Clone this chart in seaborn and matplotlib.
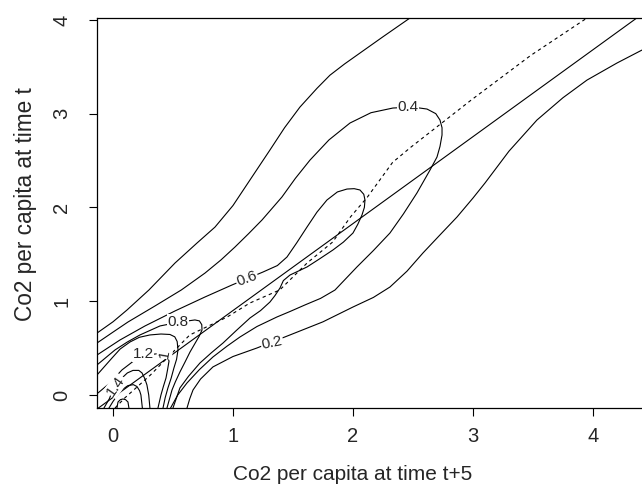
import numpy as np
import pandas as pd
import seaborn as sns
import matplotlib
matplotlib.use("Agg")
import matplotlib.pyplot as plt

# --- contour paths (x = CO2 at t+5, y = CO2 at t) ---
c02_up_x = [-0.133, 0.0, 0.117, 0.3, 0.517, 0.7, 0.85, 1.0, 1.158, 1.308, 1.43, 1.558, 1.7,
            1.808, 1.93, 2.058, 2.25, 2.475]
c02_up_y = [0.66, 0.78, 0.906, 1.12, 1.407, 1.62, 1.79, 2.02, 2.324, 2.612, 2.85, 3.07, 3.27,
            3.41, 3.53, 3.646, 3.82, 4.02]

c02_lo_x = [0.617, 0.64, 0.667, 0.73, 0.833, 1.0, 1.2, 1.475, 1.75, 2.0, 2.17, 2.308, 2.45,
            2.583, 2.72, 2.867, 3.0, 3.10, 3.3, 3.533, 3.75, 3.95, 4.2, 4.408]
c02_lo_y = [-0.139, -0.04, 0.053, 0.17, 0.299, 0.41, 0.501, 0.64, 0.78, 0.938, 1.04, 1.151, 1.32,
            1.514, 1.70, 1.898, 2.10, 2.26, 2.60, 2.932, 3.17, 3.358, 3.54, 3.678]

c04_x = [-0.133, 0.0, 0.125, 0.35, 0.57, 0.767, 0.9, 1.017, 1.13, 1.242, 1.408, 1.52, 1.642,
         1.8, 1.975, 2.15, 2.333, 2.5, 2.617, 2.69, 2.725, 2.742, 2.742, 2.725, 2.70, 2.642,
         2.533, 2.42, 2.308, 2.17, 2.033, 1.85, 1.73, 1.6, 1.475, 1.367, 1.2, 1.058, 0.95,
         0.833, 0.72, 0.617, 0.54, 0.48]
c04_y = [0.554, 0.67, 0.778, 0.949, 1.12, 1.30, 1.44, 1.578, 1.72, 1.866, 2.111, 2.31, 2.505,
         2.72, 2.90, 3.01, 3.06, 3.07, 3.049, 3.00, 2.932, 2.85, 2.772, 2.65, 2.537, 2.399,
         2.154, 1.93, 1.727, 1.54, 1.365, 1.119, 1.03, 0.96, 0.89, 0.832, 0.73, 0.618, 0.52,
         0.405, 0.27, 0.128, 0.0, -0.139]

c06_x = [-0.133, 0.058, 0.267, 0.517, 0.767, 0.992, 1.25, 1.37, 1.45, 1.53, 1.617, 1.7, 1.783,
         1.87, 1.95, 2.01, 2.058, 2.09, 2.10, 2.095, 2.075, 2.04, 2.0, 1.92, 1.833, 1.72, 1.617,
         1.475, 1.42, 1.392, 1.35, 1.308, 1.23, 1.142, 1.03, 0.917, 0.82, 0.725, 0.63, 0.558, 0.50]
c06_y = [0.426, 0.586, 0.736, 0.896, 1.045, 1.173, 1.311, 1.38, 1.471, 1.62, 1.791, 1.95, 2.079,
         2.165, 2.196, 2.2, 2.186, 2.14, 2.079, 2.0, 1.919, 1.82, 1.727, 1.63, 1.546, 1.45, 1.365,
         1.279, 1.22, 1.141, 1.06, 0.991, 0.9, 0.821, 0.69, 0.554, 0.45, 0.341, 0.2, 0.075, -0.139]

c08_x = [-0.133, 0.017, 0.12, 0.225, 0.392, 0.558, 0.683, 0.72, 0.74, 0.742, 0.72, 0.70, 0.642,
         0.60, 0.558, 0.52, 0.492, 0.45]
c08_y = [0.32, 0.48, 0.565, 0.64, 0.736, 0.778, 0.80, 0.79, 0.75, 0.693, 0.63, 0.586, 0.458,
         0.35, 0.245, 0.14, 0.053, -0.139]

c10_x = [-0.133, -0.008, 0.06, 0.142, 0.22, 0.308, 0.4, 0.475, 0.515, 0.535, 0.542, 0.53, 0.508,
         0.485, 0.458, 0.435, 0.417]
c10_y = [0.213, 0.394, 0.49, 0.565, 0.615, 0.64, 0.65, 0.645, 0.62, 0.57, 0.48, 0.38, 0.288,
         0.18, 0.075, -0.03, -0.139]

c12_x = [-0.125, -0.025, 0.075, 0.183, 0.267, 0.35, 0.42, 0.455, 0.467, 0.455, 0.442, 0.42, 0.40,
         0.375]
c12_y = [0.021, 0.128, 0.267, 0.373, 0.416, 0.437, 0.44, 0.415, 0.36, 0.27, 0.181, 0.09, 0.0,
         -0.139]

c14_x = [-0.075, -0.03, -0.008, 0.035, 0.075, 0.12, 0.167, 0.215, 0.242, 0.265, 0.283, 0.298, 0.308]
c14_y = [-0.139, -0.04, 0.032, 0.11, 0.181, 0.235, 0.262, 0.262, 0.235, 0.175, 0.107, 0.0, -0.139]

c16_x = [-0.033, 0.0, 0.033, 0.08, 0.125, 0.17, 0.20, 0.222, 0.233, 0.245]
c16_y = [-0.139, -0.07, -0.011, 0.06, 0.1, 0.11, 0.09, 0.045, 0.0, -0.139]

c18_x = [0.033, 0.042, 0.062, 0.083, 0.105, 0.125, 0.133]
c18_y = [-0.139, -0.075, -0.05, -0.043, -0.05, -0.075, -0.139]

# contour labels
lab_text = ["0.2", "0.4", "0.6", "0.8", "1.2", "1", "1.4"]
lab_x = [1.325, 2.458, 1.117, 0.542, 0.25, 0.43, 0.025]
lab_y = [0.56, 3.07, 1.237, 0.778, 0.437, 0.44, 0.10]
lab_rot = [12, 0, 20, 0, 0, 80, 55]

# dashed (mode) path and solid fitted line
mode_x = [0.017, 0.10, 0.31, 0.64, 0.95, 1.14, 1.39, 1.62, 1.83, 1.98, 2.12, 2.33, 2.48, 2.98, 3.48, 3.95]
mode_y = [-0.139, -0.03, 0.21, 0.64, 0.83, 0.98, 1.12, 1.41, 1.63, 1.90, 2.11, 2.48, 2.64, 3.14, 3.62, 4.02]
fit_x = [-0.133, 4.408]
fit_y = [-0.15, 4.06]

paths = {
    "0.2a": (c02_up_x, c02_up_y), "0.2b": (c02_lo_x, c02_lo_y),
    "0.4": (c04_x, c04_y), "0.6": (c06_x, c06_y), "0.8": (c08_x, c08_y),
    "1.0": (c10_x, c10_y), "1.2": (c12_x, c12_y), "1.4": (c14_x, c14_y),
    "1.6": (c16_x, c16_y), "1.8": (c18_x, c18_y),
}
df = pd.concat([pd.DataFrame({"x": px, "y": py, "curve": k}) for k, (px, py) in paths.items()],
               ignore_index=True)

sns.set_style("white")
plt.rcParams["font.family"] = ["Liberation Sans", "DejaVu Sans"]

fig = plt.figure(figsize=(6.42, 4.95), dpi=100)
ax = fig.add_axes([97 / 642, 87 / 495, (660 - 97) / 642, 390 / 495])

sns.lineplot(data=df, x="x", y="y", units="curve", estimator=None, sort=False,
             color="black", lw=0.8, ax=ax)
sns.lineplot(x=mode_x, y=mode_y, sort=False, estimator=None, color="black", lw=0.8, ax=ax)
ax.lines[-1].set_dashes((3, 3))
sns.lineplot(x=fit_x, y=fit_y, sort=False, estimator=None, color="black", lw=0.8, ax=ax)

for t, x, y, r in zip(lab_text, lab_x, lab_y, lab_rot):
    ax.text(x, y, t, fontsize=11, ha="center", va="center", rotation=r,
            bbox=dict(facecolor="white", edgecolor="none", pad=0.6))

ax.set_xlim(-0.133, (660 - 113) / 120)
ax.set_ylim(-0.139, 4.02)
ax.set_xticks([0, 1, 2, 3, 4])
ax.set_yticks([0, 1, 2, 3, 4])
ax.set_yticklabels(["0", "1", "2", "3", "4"], rotation=90, va="center")
ax.tick_params(axis="both", direction="out", length=5.5, width=0.8, color="black",
               labelsize=14.5, bottom=True, left=True)
ax.tick_params(axis="x", pad=8)
ax.tick_params(axis="y", pad=13)
for s in ax.spines.values():
    s.set_color("black")
    s.set_linewidth(0.9)

ax.set_xlabel("Co2 per capita at time t+5", fontsize=15)
ax.set_ylabel("Co2 per capita at time t", fontsize=16.3)
# label centres as seen in the reference (x label under tick 2, y label slightly above middle)
ax.xaxis.set_label_coords((353 - 97) / (660 - 97), -(475 - 408) / 390)
ax.yaxis.set_label_coords(-(97 - 26) / (660 - 97), (408 - 204) / 390)
ax.xaxis.label.set_va("center")
ax.yaxis.label.set_va("center")
if ax.get_legend() is not None:
    ax.get_legend().remove()

fig.savefig("out.png", dpi=100)
